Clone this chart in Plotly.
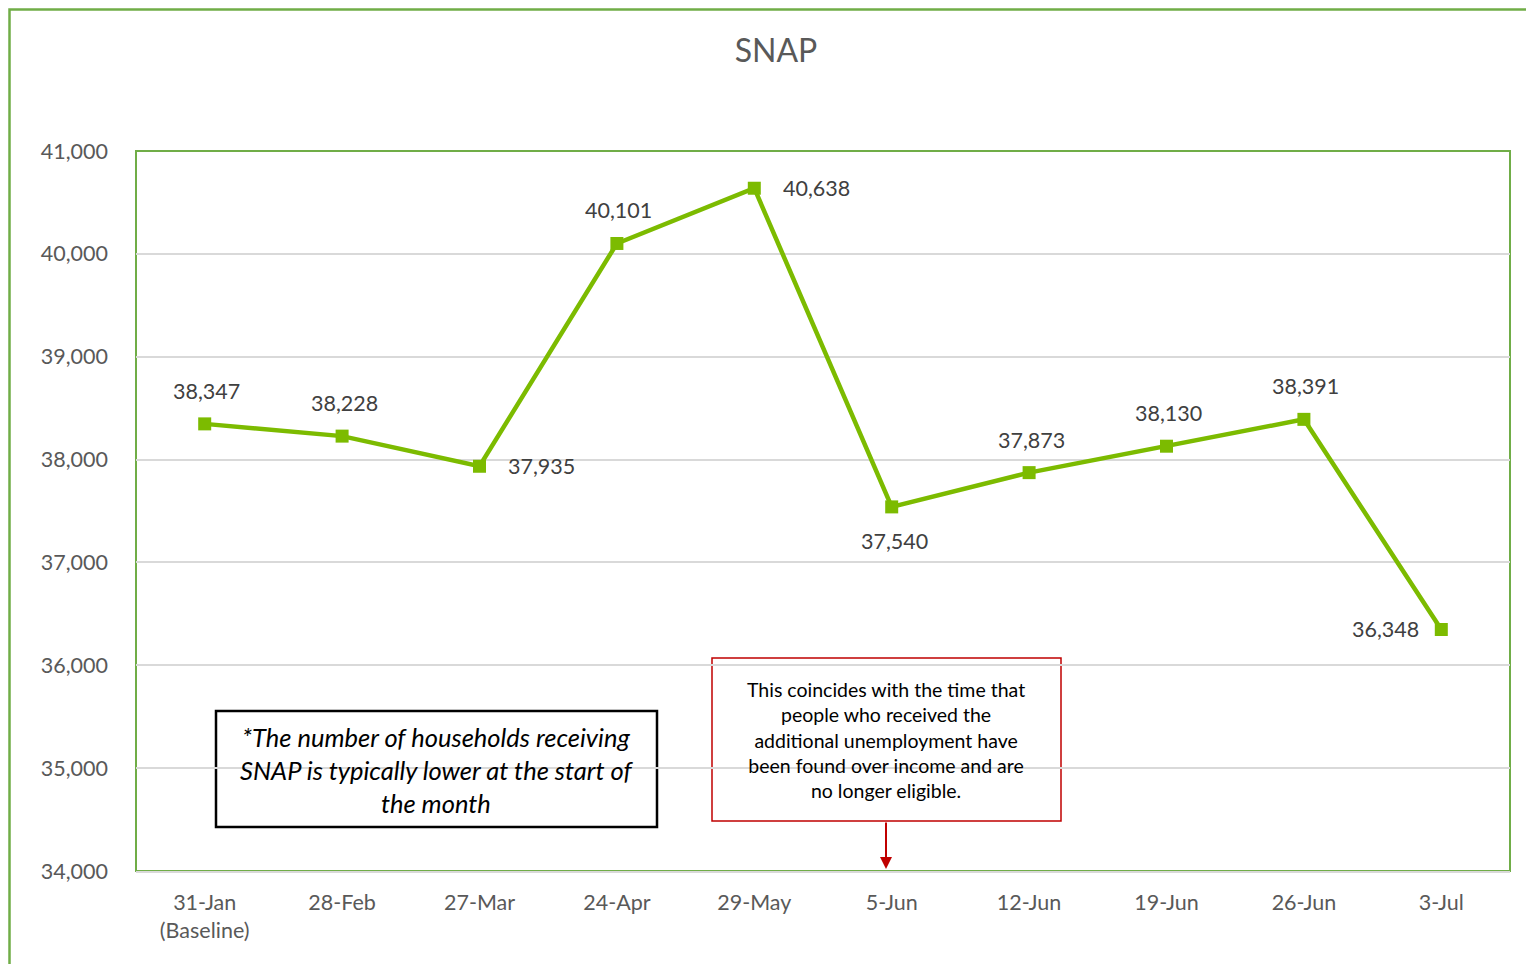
import plotly.graph_objects as go

categories = ["31-Jan<br>(Baseline)", "28-Feb", "27-Mar", "24-Apr", "29-May",
              "5-Jun", "12-Jun", "19-Jun", "26-Jun", "3-Jul"]
households = [38347, 38228, 37935, 40101, 40638, 37540, 37873, 38130, 38391, 36348]
label_pos = ["above", "above", "right", "above", "right", "below", "above", "above", "above", "left"]

y_ticks = [34000, 35000, 36000, 37000, 38000, 39000, 40000, 41000]

# page has an 8px body margin; work in screen pixels and subtract it
OFF = 8
W, H = 1534 - OFF, 964 - OFF
L, R, T, B = 136, 1510, 151, 871  # screen pixels of plot area
FONT = "Lato, 'Open Sans', sans-serif"
FS = 21.5


def px(x):
    return (x - L) / (R - L)


def py(y):
    return (B - y) / (B - T)


xs = list(range(len(categories)))
fig = go.Figure()
fig.add_trace(go.Scatter(
    x=xs, y=households, mode="lines+markers",
    line=dict(color="#7CBB00", width=4.5),
    marker=dict(symbol="square", size=13, color="#7CBB00"),
    hoverinfo="skip", showlegend=False,
))

shift = {"above": (2, 33), "below": (3, -34), "right": (62, 0), "left": (-56, 0)}
annotations = []
for i, (v, pos) in enumerate(zip(households, label_pos)):
    dx, dy = shift[pos]
    annotations.append(dict(
        x=i, y=v, xref="x", yref="y", text=f"{v:,}", showarrow=False,
        xshift=dx, yshift=dy, font=dict(size=FS, color="#404040", family=FONT),
    ))

annotations.append(dict(
    x=px(437), y=py(770), xref="paper", yref="paper", showarrow=False,
    xanchor="center", yanchor="middle",
    text="<i>*The number of households receiving<br>SNAP is typically lower at the start of<br>the month</i>",
    align="center", font=dict(size=25.5, color="#000000", family=FONT),
))
annotations.append(dict(
    x=px(886), y=py(740), xref="paper", yref="paper", showarrow=False,
    xanchor="center", yanchor="middle",
    text="This coincides with the time that<br>people who received the<br>additional unemployment have<br>been found over income and are<br>no longer eligible.",
    align="center", font=dict(size=19.5, color="#000000", family=FONT),
))
annotations.append(dict(
    x=px(886), y=py(869), xref="paper", yref="paper", text="", showarrow=True,
    ax=0, ay=-48, arrowhead=2, arrowsize=1.2, arrowwidth=2, arrowcolor="#C00000",
))

shapes = [
    dict(type="rect", xref="paper", yref="paper",
         x0=px(9.5), x1=px(1545), y0=py(975), y1=py(9.5),
         line=dict(color="#70AD47", width=2.5), layer="below"),
    dict(type="rect", xref="paper", yref="paper",
         x0=0, x1=1, y0=0, y1=1, line=dict(color="#70AD47", width=2), layer="below"),
    dict(type="rect", xref="paper", yref="paper",
         x0=px(216), x1=px(657), y0=py(827), y1=py(711),
         line=dict(color="#000000", width=2.5), fillcolor="white", layer="below"),
    dict(type="rect", xref="paper", yref="paper",
         x0=px(712), x1=px(1061), y0=py(821), y1=py(658),
         line=dict(color="#C00000", width=1.5), fillcolor="white", layer="below"),
]

fig.update_layout(
    width=W, height=H,
    margin=dict(l=L - OFF, r=W - (R - OFF), t=T - OFF, b=H - (B - OFF), pad=0),
    paper_bgcolor="white", plot_bgcolor="white",
    title=dict(text="SNAP", x=(776 - OFF) / W, xref="container", xanchor="center",
               y=1 - (51 - OFF) / H, yref="container", yanchor="middle",
               font=dict(size=32, color="#595959", family=FONT)),
    font=dict(family=FONT),
    xaxis=dict(tickmode="array", tickvals=xs, ticktext=categories,
               range=[-0.5, len(categories) - 0.5], showgrid=False, zeroline=False,
               showline=True, linecolor="#D9D9D9", linewidth=2, ticks="",
               tickfont=dict(size=FS, color="#595959", family=FONT), ticklabelstandoff=11),
    yaxis=dict(range=[34000, 41000], tickvals=y_ticks, tickformat=",",
               showgrid=True, gridcolor="#D9D9D9", gridwidth=1.5, zeroline=False,
               showline=False, ticks="",
               tickfont=dict(size=FS, color="#595959", family=FONT), ticklabelstandoff=27),
    shapes=shapes, annotations=annotations,
)

fig.write_html("out.html")
